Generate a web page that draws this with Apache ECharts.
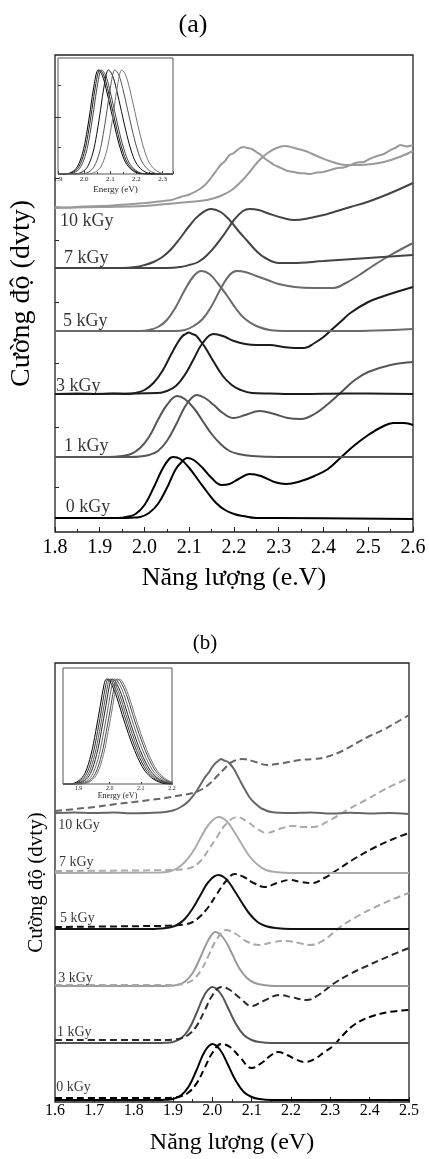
<!DOCTYPE html>
<html>
<head>
<meta charset="utf-8">
<script src="https://cdn.jsdelivr.net/npm/echarts@6/dist/echarts.min.js"></script>
<style>
html, body { margin: 0; padding: 0; background: #fff; }
#chart { width: 429px; height: 1159px; }
</style>
</head>
<body>
<div id="chart"></div>
<script>
// ---------- du lieu ----------
var doseLabels = ['0 kGy', '1 kGy', '3 kGy', '5 kGy', '7 kGy', '10 kGy']

// hinh (a): moi lieu chieu co 2 duong (dinh thap / dinh cao), truc y = cuong do (dvty)
var a0a = [[1.8,14],[1.9,14],[1.94,14],[1.96,15],[1.98,18],[2.0,27],[2.02,44],[2.04,63],[2.055,73],[2.064,75],[2.08,73],[2.1,64],[2.12,52],[2.14,40],[2.16,29],[2.18,22],[2.2,18],[2.22,16],[2.25,14],[2.3,14],[2.6,13]]
var a0b = [[1.8,14],[1.95,14],[1.97,14.3],[1.99,15],[2.01,19],[2.03,28],[2.05,44],[2.07,63],[2.085,71],[2.095,74],[2.11,72],[2.13,64],[2.15,54],[2.172,47],[2.19,48],[2.21,53],[2.235,58],[2.26,56],[2.29,50],[2.317,48],[2.35,51],[2.38,56],[2.41,63],[2.44,75],[2.47,87],[2.5,97],[2.53,105],[2.556,109],[2.58,109],[2.6,107]]
var a1a = [[1.8,75],[1.92,75],[1.95,76],[1.97,78],[1.99,84],[2.01,95],[2.03,112],[2.05,127],[2.073,136],[2.09,133],[2.11,124],[2.13,111],[2.15,98],[2.17,88],[2.19,81],[2.21,78],[2.24,76],[2.3,75],[2.6,75]]
var a1b = [[1.8,75],[1.97,75],[1.99,75.5],[2.01,77],[2.03,81],[2.05,91],[2.07,107],[2.09,125],[2.105,134],[2.117,137],[2.135,134],[2.155,127],[2.175,119],[2.199,114],[2.225,117],[2.257,121],[2.29,118],[2.32,114],[2.35,113],[2.38,118],[2.41,128],[2.44,140],[2.47,152],[2.5,160],[2.55,167],[2.6,170]]
var a3a = [[1.8,138],[1.85,138.5],[1.9,138],[1.93,138.5],[1.96,138],[1.98,139],[2.0,142],[2.02,149],[2.04,161],[2.06,178],[2.075,190],[2.085,196],[2.092,198],[2.099,199.5],[2.107,198],[2.115,196.5],[2.125,191],[2.135,185],[2.155,170],[2.175,156],[2.195,147],[2.215,142],[2.24,139],[2.28,138.5],[2.35,138],[2.45,138.5],[2.6,138]]
var a3b = [[1.8,138],[2.03,139],[2.05,141],[2.07,146],[2.09,157],[2.11,173],[2.13,189],[2.154,198],[2.175,196],[2.2,191],[2.225,188],[2.25,187],[2.28,187],[2.31,185],[2.335,184],[2.357,184],[2.38,189],[2.4,195],[2.42,203],[2.44,211],[2.46,219],[2.5,230],[2.535,236],[2.57,241],[2.6,245]]
var a5a = [[1.8,201],[1.99,201],[2.01,202],[2.03,205],[2.05,212],[2.07,225],[2.09,242],[2.11,256],[2.127,261],[2.145,258],[2.165,248],[2.185,236],[2.205,223],[2.225,213],[2.25,206],[2.28,202],[2.32,201],[2.45,201],[2.6,203]]
var a5b = [[1.8,201],[2.07,201],[2.09,202],[2.11,206],[2.13,213],[2.15,226],[2.17,243],[2.19,257],[2.206,261],[2.225,260],[2.25,256],[2.275,252],[2.3,248],[2.335,245],[2.38,244],[2.423,244],[2.45,249],[2.48,257],[2.51,266],[2.55,277],[2.6,289]]
var a7a = [[1.8,264],[1.95,264],[1.98,265],[2.0,267],[2.02,270],[2.04,275],[2.06,283],[2.08,294],[2.1,306],[2.12,316],[2.149,323],[2.17,320],[2.19,312],[2.21,301],[2.23,291],[2.25,281],[2.27,274],[2.3,269],[2.33,269],[2.4,271],[2.5,274],[2.6,277]]
var a7b = [[1.8,264],[2.05,264],[2.08,265],[2.1,267],[2.12,270],[2.14,277],[2.16,287],[2.18,299],[2.2,312],[2.22,321],[2.235,323],[2.255,322],[2.28,318],[2.31,314],[2.335,312],[2.37,314],[2.4,317],[2.423,320],[2.46,325],[2.498,330],[2.55,339],[2.6,349]]
var a10a = [[1.8,325],[1.83,324.5],[1.86,325.5],[1.9,326],[1.93,326.5],[1.96,327.5],[2.0,329],[2.03,330.5],[2.06,332],[2.08,335],[2.1,337.5],[2.12,342],[2.135,347],[2.15,355],[2.16,361],[2.17,367],[2.18,371],[2.19,377],[2.2,379],[2.21,383],[2.221,385],[2.23,384],[2.24,383],[2.25,380],[2.26,377],[2.27,373],[2.28,370],[2.29,367],[2.3,365],[2.32,361],[2.335,360],[2.345,359],[2.36,358.5],[2.37,358],[2.385,359.5],[2.4,360],[2.415,362],[2.432,364],[2.445,364.5],[2.46,367],[2.475,369.5],[2.49,370],[2.505,373.5],[2.52,376],[2.535,378],[2.55,382],[2.56,384],[2.572,387],[2.585,385.5],[2.6,387]]
var a10b = [[1.8,324],[1.9,325],[2.0,326],[2.05,328],[2.1,330],[2.14,332],[2.17,336],[2.195,342],[2.215,350],[2.235,360],[2.255,371],[2.275,379],[2.295,384],[2.313,386],[2.335,384],[2.36,381],[2.39,375],[2.42,370],[2.45,367],[2.48,367],[2.51,368],[2.535,370],[2.57,375],[2.6,381]]
var aLabelX = [1.824, 1.82, 1.802, 1.818, 1.82, 1.811]
var aLabelY = [25, 86, 146, 211, 274, 311]
var aYTicks = [45, 105, 169, 230, 292, 354, 415]

// o nho (a): dang pho chuan hoa (dx, I) va vi tri dinh
var insetShapeA = [[-0.13,0],[-0.1,0.02],[-0.08,0.07],[-0.06,0.2],[-0.045,0.38],[-0.03,0.62],[-0.015,0.87],[0,1],[0.015,0.95],[0.03,0.82],[0.05,0.6],[0.07,0.38],[0.09,0.2],[0.11,0.09],[0.14,0.02],[0.18,0]]
var insetPeaksA = [2.054, 2.06, 2.067, 2.093, 2.118, 2.144]
var insetYTicksA = [0.26, 0.55, 0.85]

// hinh (b): duong lien (PL) va duong net dut
var b0s = [[1.6,2],[1.8,2],[1.86,2],[1.88,2.2],[1.9,3],[1.92,6.5],[1.94,15.5],[1.96,32],[1.98,50],[2.0,58],[2.02,52],[2.04,37],[2.06,21],[2.08,10],[2.1,5],[2.12,3],[2.15,2],[2.5,2]]
var b0d = [[1.6,4],[1.85,4],[1.88,4],[1.9,4.4],[1.92,5.6],[1.94,9.7],[1.96,18.6],[1.98,33.7],[2.0,49],[2.023,58],[2.045,55],[2.07,45],[2.1,34],[2.125,39],[2.15,47],[2.167,50],[2.19,47],[2.21,43],[2.235,40],[2.26,43],[2.285,50],[2.307,56],[2.33,66],[2.36,77],[2.4,85],[2.45,90],[2.5,92]]
var b1s = [[1.6,59],[1.86,59],[1.88,59.2],[1.9,60],[1.92,63.5],[1.94,72.5],[1.96,89],[1.98,107],[2.0,115],[2.02,109],[2.04,94],[2.06,78],[2.08,67],[2.1,62],[2.12,60],[2.15,59],[2.5,59]]
var b1d = [[1.6,62],[1.88,62],[1.9,62.4],[1.92,63.6],[1.94,67.5],[1.96,76],[1.98,91],[2.0,106.5],[2.023,115],[2.045,112],[2.07,104],[2.1,96],[2.13,101],[2.17,107],[2.2,105],[2.24,102],[2.27,107],[2.307,118],[2.35,128],[2.393,136],[2.45,146],[2.5,154]]
var b3s = [[1.6,116],[1.87,116],[1.89,116.2],[1.91,117],[1.93,120.3],[1.95,129],[1.97,145],[1.99,162],[2.008,170],[2.028,164],[2.048,150],[2.068,134],[2.088,124],[2.108,119],[2.13,117],[2.16,116],[2.5,116]]
var b3d = [[1.6,117],[1.9,117],[1.93,118.5],[1.95,122],[1.97,131],[1.99,146],[2.01,162],[2.035,172],[2.06,168],[2.09,160],[2.12,157],[2.155,160],[2.19,161],[2.22,159],[2.248,157],[2.28,161],[2.325,175],[2.37,186],[2.42,196],[2.46,203],[2.5,209]]
var b5s = [[1.6,173],[1.85,173],[1.87,173.4],[1.89,174.5],[1.91,177],[1.93,183],[1.95,193.5],[1.97,207],[1.99,220],[2.015,227],[2.035,223],[2.055,212],[2.075,199.5],[2.095,188],[2.115,180],[2.135,176],[2.16,174],[2.2,173],[2.5,173]]
var b5d = [[1.6,175],[1.85,176],[1.9,176.5],[1.93,177.5],[1.95,180],[1.97,186],[1.99,195],[2.01,207],[2.035,221],[2.057,228],[2.08,225],[2.105,219],[2.133,215],[2.165,219],[2.197,222],[2.225,220],[2.253,219],[2.285,224],[2.317,232],[2.36,243],[2.41,254],[2.46,263],[2.5,269]]
var b7s = [[1.6,229],[1.87,229.4],[1.89,230.5],[1.91,233.5],[1.93,240],[1.95,250],[1.97,264],[1.99,277],[2.016,285],[2.036,281],[2.056,270],[2.076,257],[2.096,245],[2.116,237],[2.136,232],[2.16,230],[2.2,229],[2.5,229]]
var b7d = [[1.6,231],[1.9,232],[1.93,233],[1.95,235],[1.97,241],[1.99,252],[2.01,264],[2.035,278],[2.063,285],[2.09,280],[2.115,273],[2.138,269],[2.17,273],[2.205,276],[2.23,275],[2.256,275],[2.3,282],[2.342,292],[2.39,302],[2.44,313],[2.5,324]]
var b10s = [[1.6,289],[1.65,289.6],[1.7,289],[1.75,289.5],[1.8,288.7],[1.85,289.2],[1.88,290],[1.9,291.5],[1.92,295],[1.94,301],[1.96,311],[1.98,324],[1.99,329],[2.0,335],[2.008,339],[2.015,341],[2.022,343],[2.03,341.5],[2.038,340.5],[2.045,338],[2.055,333],[2.065,325.5],[2.075,318],[2.085,311],[2.095,304.5],[2.105,300],[2.115,296.5],[2.125,293.5],[2.15,290],[2.2,289],[2.25,289.5],[2.3,288.5],[2.35,289.2],[2.4,288.6],[2.45,289],[2.5,288]]
var b10d = [[1.6,291],[1.65,293],[1.7,295],[1.756,298],[1.8,300],[1.84,302],[1.88,304],[1.924,307],[1.95,309],[1.975,313],[1.995,319],[2.01,325],[2.03,333],[2.05,340],[2.077,343],[2.11,340],[2.138,337],[2.18,339],[2.222,342],[2.26,343],[2.29,345],[2.33,351],[2.367,359],[2.4,366],[2.434,372],[2.47,380],[2.5,387]]
var bLabelX = [1.603, 1.605, 1.608, 1.613, 1.61, 1.608]
var bLabelY = [15, 70, 124, 184, 240, 277]

// o nho (b)
var insetShapeB = [[-0.12,0],[-0.09,0.03],[-0.07,0.1],[-0.05,0.28],[-0.035,0.5],[-0.02,0.75],[-0.008,0.95],[0,1],[0.01,0.98],[0.03,0.85],[0.05,0.66],[0.07,0.48],[0.09,0.32],[0.11,0.19],[0.13,0.1],[0.16,0.03],[0.2,0]]
var insetPeaksB = [1.99, 1.996, 2.002, 2.008, 2.016, 2.024, 2.03]
var insetTicksB = [1.9, 2.0, 2.1, 2.2]

// ---------- ve ----------
var FONT = 'Liberation Serif'
var chart = echarts.init(document.getElementById('chart'), null, { renderer: 'canvas' })

function curve(data, color, xi, opt) {
  return Object.assign({
    type: 'line', data: data, xAxisIndex: xi, yAxisIndex: xi,
    symbol: 'none', smooth: 0.4, silent: true, animation: false, z: 2,
    lineStyle: { color: color, width: 2 }
  }, opt || {})
}
function dashed(data, color, xi) {
  return curve(data, color, xi, { lineStyle: { color: color, width: 2, type: [7, 4] } })
}
function labelSeries(xs, ys, xi, size) {
  return {
    type: 'scatter', xAxisIndex: xi, yAxisIndex: xi, symbolSize: 0, silent: true, animation: false, z: 3,
    data: doseLabels.map(function (t, i) { return { name: t, value: [xs[i], ys[i]] } }),
    label: { show: true, position: 'right', distance: 0, formatter: '{b}', fontFamily: FONT, fontSize: size, color: '#000' }
  }
}
function insetSeries(shape, peaks, xmin, xmax, xi, colors) {
  return peaks.map(function (p, i) {
    var pts = [[xmin, 0]].concat(shape.map(function (d) { return [p + d[0], d[1]] })).concat([[xmax, 0]])
    return {
      type: 'line', data: pts, xAxisIndex: xi, yAxisIndex: xi, symbol: 'none', smooth: 0.35,
      silent: true, animation: false, z: 6, lineStyle: { color: colors[i % colors.length], width: 1 }
    }
  })
}

var fmt1 = function (v) { return v.toFixed(1) }

var series = [
  curve(a0a, '#000', 0), curve(a0b, '#000', 0),
  curve(a1a, '#555', 0), curve(a1b, '#555', 0),
  curve(a3a, '#1c1c1c', 0), curve(a3b, '#1c1c1c', 0),
  curve(a5a, '#6a6a6a', 0), curve(a5b, '#6a6a6a', 0),
  curve(a7a, '#444', 0), curve(a7b, '#444', 0),
  curve(a10a, '#9a9a9a', 0, { smooth: 0.25 }), curve(a10b, '#9a9a9a', 0),
  labelSeries(aLabelX, aLabelY, 0, 18),

  curve(b0s, '#000', 2), dashed(b0d, '#000', 2),
  curve(b1s, '#555', 2), dashed(b1d, '#2a2a2a', 2),
  curve(b3s, '#9a9a9a', 2), dashed(b3d, '#a8a8a8', 2),
  curve(b5s, '#111', 2), dashed(b5d, '#111', 2),
  curve(b7s, '#ababab', 2), dashed(b7d, '#ababab', 2),
  curve(b10s, '#666', 2, { smooth: 0.25 }), dashed(b10d, '#666', 2),
  labelSeries(bLabelX, bLabelY, 2, 14)
].concat(insetSeries(insetShapeA, insetPeaksA, 1.9, 2.34, 1, ['#000', '#222', '#444', '#111', '#555', '#777']))
 .concat(insetSeries(insetShapeB, insetPeaksB, 1.85, 2.2, 3, ['#000', '#333', '#555', '#222', '#666', '#444', '#777']))

var option = {
  backgroundColor: '#fff',
  animation: false,
  graphic: [
    { type: 'text', x: 193, y: 25, style: { text: '(a)', font: '26px "Liberation Serif"', fill: '#000', textAlign: 'center', textVerticalAlign: 'middle' } },
    { type: 'text', x: 205, y: 643, style: { text: '(b)', font: '21px "Liberation Serif"', fill: '#000', textAlign: 'center', textVerticalAlign: 'middle' } }
  ],
  grid: [
    { left: 52, top: 55, width: 361, height: 477, show: true, borderColor: '#222', borderWidth: 1.3, backgroundColor: 'transparent' },
    { left: 58, top: 58, width: 115, height: 116, show: true, borderColor: '#555', borderWidth: 1, backgroundColor: '#fff', z: 5 },
    { left: 55, top: 663, width: 354, height: 439, show: true, borderColor: '#222', borderWidth: 1.3, backgroundColor: 'transparent' },
    { left: 63, top: 668, width: 109, height: 116, show: true, borderColor: '#555', borderWidth: 1, backgroundColor: '#fff', z: 5 }
  ],
  xAxis: [
    {
      gridIndex: 0, type: 'value', min: 1.8, max: 2.6, interval: 0.1,
      axisLine: { show: false }, splitLine: { show: false },
      axisTick: { inside: true, length: 5, lineStyle: { color: '#222' } },
      minorTick: { show: true, splitNumber: 2, length: 3, lineStyle: { color: '#222' } },
      axisLabel: { formatter: fmt1, fontFamily: FONT, fontSize: 20, color: '#000', margin: 6 },
      name: 'Năng lượng (e.V)', nameLocation: 'middle', nameGap: 33,
      nameTextStyle: { fontFamily: FONT, fontSize: 26, color: '#000' }
    },
    {
      gridIndex: 1, type: 'value', min: 1.9, max: 2.34, interval: 0.1, z: 6,
      axisLine: { show: false }, splitLine: { show: false },
      axisTick: { inside: true, length: 3, lineStyle: { color: '#444' } },
      minorTick: { show: true, splitNumber: 2, length: 2, lineStyle: { color: '#444' } },
      axisLabel: { formatter: fmt1, showMaxLabel: false, fontFamily: FONT, fontSize: 7, color: '#222', margin: 2 },
      name: 'Energy (eV)', nameLocation: 'middle', nameGap: 11,
      nameTextStyle: { fontFamily: FONT, fontSize: 9, color: '#222' }
    },
    {
      gridIndex: 2, type: 'value', min: 1.6, max: 2.5, interval: 0.1,
      axisLine: { show: false }, splitLine: { show: false },
      axisTick: { inside: true, length: 5, lineStyle: { color: '#222' } },
      minorTick: { show: true, splitNumber: 2, length: 3, lineStyle: { color: '#222' } },
      axisLabel: { formatter: fmt1, fontFamily: FONT, fontSize: 16, color: '#000', margin: 1 },
      name: 'Năng lượng (eV)', nameLocation: 'middle', nameGap: 29,
      nameTextStyle: { fontFamily: FONT, fontSize: 24, color: '#000' }
    },
    {
      gridIndex: 3, type: 'value', min: 1.85, max: 2.2, z: 6,
      axisLine: { show: false }, splitLine: { show: false },
      axisTick: { inside: true, length: 2, customValues: insetTicksB, lineStyle: { color: '#444' } },
      axisLabel: { customValues: insetTicksB, formatter: fmt1, fontFamily: FONT, fontSize: 6, color: '#222', margin: 1 },
      name: 'Energy (eV)', nameLocation: 'middle', nameGap: 7,
      nameTextStyle: { fontFamily: FONT, fontSize: 8, color: '#222' }
    }
  ],
  yAxis: [
    {
      gridIndex: 0, type: 'value', min: 0, max: 477,
      axisLine: { show: false }, splitLine: { show: false }, axisLabel: { show: false },
      axisTick: { inside: true, length: 4, customValues: aYTicks, lineStyle: { color: '#222' } },
      name: 'Cường độ (dvty)', nameLocation: 'middle', nameGap: 19,
      nameTextStyle: { fontFamily: FONT, fontSize: 28, color: '#000' }
    },
    {
      gridIndex: 1, type: 'value', min: 0, max: 1.115, z: 6,
      axisLine: { show: false }, splitLine: { show: false }, axisLabel: { show: false },
      axisTick: { inside: true, length: 3, customValues: insetYTicksA, lineStyle: { color: '#444' } }
    },
    {
      gridIndex: 2, type: 'value', min: 0, max: 439,
      axisLine: { show: false }, splitLine: { show: false }, axisLabel: { show: false }, axisTick: { show: false },
      name: 'Cường độ (dvty)', nameLocation: 'middle', nameGap: 8,
      nameTextStyle: { fontFamily: FONT, fontSize: 21, color: '#000' }
    },
    {
      gridIndex: 3, type: 'value', min: 0, max: 1.105, z: 6,
      axisLine: { show: false }, splitLine: { show: false }, axisLabel: { show: false }, axisTick: { show: false }
    }
  ],
  series: series
}

chart.setOption(option)
</script>
</body>
</html>
